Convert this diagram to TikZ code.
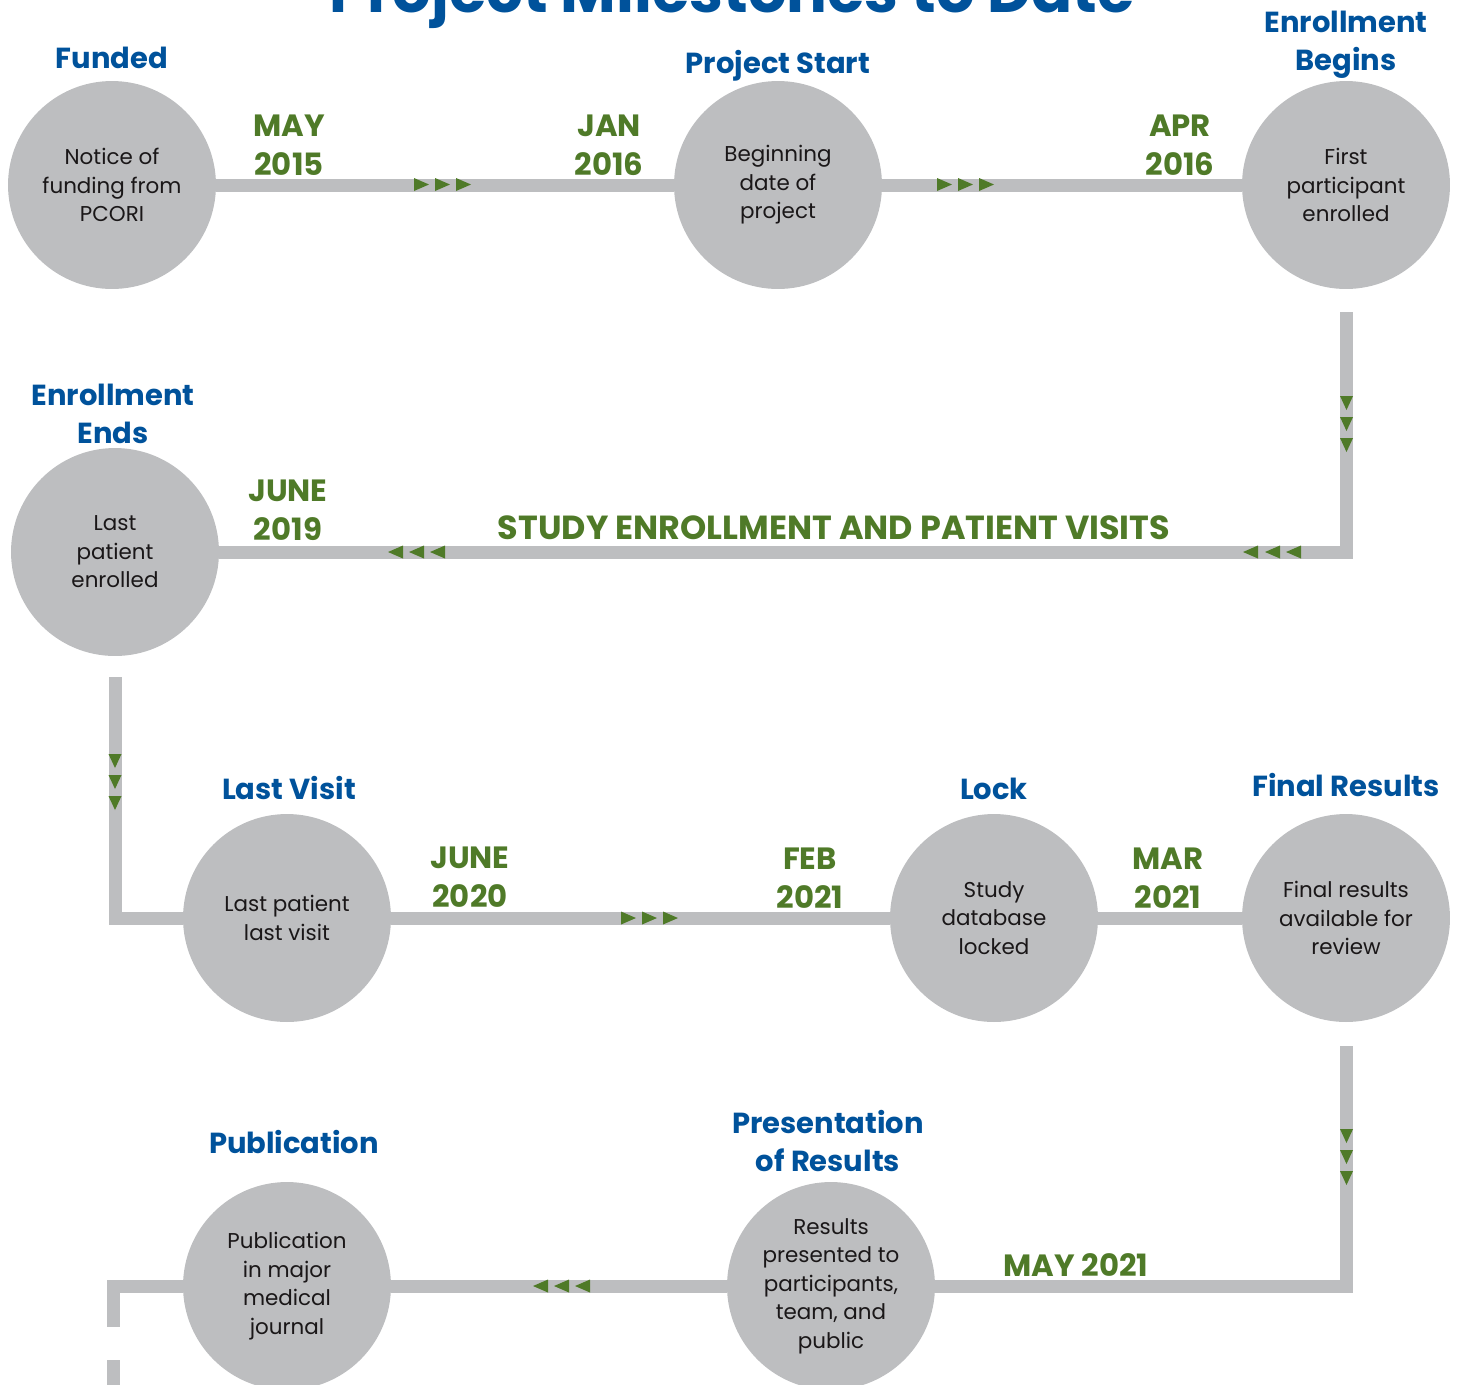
\documentclass[tikz,border=0pt]{standalone}
\usepackage{fontspec}
\setmainfont{Poppins}
\usepackage{tikz}
\usetikzlibrary{positioning}
\usetikzlibrary{calc}
\definecolor{mileblue}{HTML}{00529B}
\definecolor{milegreen}{HTML}{4F7A28}
\definecolor{milegray}{HTML}{BDBEC0}
\definecolor{miletext}{HTML}{1A1718}

\begin{document}
\begin{tikzpicture}[x=0.02cm, y=-0.02cm,
	track/.style={draw=milegray, line width=0.26cm},
	stop/.style={circle, fill=milegray, minimum size=4.16cm, inner sep=0pt,
		align=center, text=miletext, font=\fontsize{12.2}{16.2}\selectfont},
	heading/.style={anchor=base, align=center, text=mileblue,
		font=\fontsize{16.5}{21.5}\selectfont\bfseries},
	when/.style={anchor=base, align=center, text=milegreen,
		font=\fontsize{17.5}{22}\selectfont\bfseries},
	chev/.style={fill=milegreen}]
	
	% NOTE: one unit is one pixel of the 1460 x 1384 sheet, y runs downwards
	%		a node with two lines sits on the baseline of its LAST line
	\useasboundingbox (0,0) rectangle (1460,1384);
	
	\node[anchor=base, text=mileblue, font=\fontsize{34.5}{36}\selectfont\bfseries]
		(Title) at (732,12) {Project Milestones to Date};
	
	%%%%%%%%%%%%%%%%%%%%%%%%%%%%%%%%%%%%%%%%%%%%%%%%%%%%%%%%%%%%%%
	% the milestones
	\node[stop] (Fund)    at (112,185)  {Notice of\\funding from\\PCORI};
	\node[stop] (Start)   at (778,185)  {Beginning\\date of\\project};
	\node[stop] (Begin)   at (1346,185) {First\\participant\\enrolled};
	
	\node[stop] (Ends)    at (115,552)  {Last\\patient\\enrolled};
	
	\node[stop] (Visit)   at (287,918)  {Last patient\\last visit};
	\node[stop] (Lock)    at (994,918)  {Study\\database\\locked};
	\node[stop] (Final)   at (1346,918) {Final results\\available for\\review};
	
	\node[stop] (Present) at (831,1286) {Results\\presented to\\participants,\\team, and\\public};
	\node[stop] (Pub)     at (287,1286) {Publication\\in major\\medical\\journal};
	
	% titles above the circles
	\node[heading] (FundLabel)    at (112,68)   {Funded};
	\node[heading] (StartLabel)   at (778,73)   {Project Start};
	\node[heading] (BeginLabel)   at (1346,70)  {Enrollment\\Begins};
	\node[heading] (EndsLabel)    at (113,443)  {Enrollment\\Ends};
	\node[heading] (VisitLabel)   at (289,799)  {Last Visit};
	\node[heading] (LockLabel)    at (994,799)  {Lock};
	\node[heading] (FinalLabel)   at (1346,796) {Final Results};
	\node[heading] (PresentLabel) at (828,1171) {Presentation\\of Results};
	\node[heading] (PubLabel)     at (294,1153) {Publication};
	
	% dates
	\node[when] (MayA)  at (289,175)  {MAY\\2015};
	\node[when] (Jan)   at (609,175)  {JAN\\2016};
	\node[when] (Apr)   at (1180,175) {APR\\2016};
	\node[when] (JunA)  at (288,540)  {JUNE\\2019};
	\node[when, font=\fontsize{19}{22}\selectfont\bfseries]
		(Study) at (834,539)  {STUDY ENROLLMENT AND PATIENT VISITS};
	\node[when] (JunB)  at (470,907)  {JUNE\\2020};
	\node[when] (Feb)   at (810,908)  {FEB\\2021};
	\node[when] (Mar)   at (1168,908) {MAR\\2021};
	\node[when] (MayB)  at (1076,1276) {MAY 2021};
	
	%%%%%%%%%%%%%%%%%%%%%%%%%%%%%%%%%%%%%%%%%%%%%%%%%%%%%%%%%%%%%%
	% the track, corners are plain coordinates
	\coordinate (TurnA) at (1346,312);
	\coordinate (BendA) at (1346,552);
	\coordinate (TurnB) at (115,677);
	\coordinate (BendB) at (115,918);
	\coordinate (TurnC) at (1346,1046);
	\coordinate (BendC) at (1346,1286);
	\coordinate (BendD) at (113,1286);
	\coordinate (TailA) at (113,1327);
	\coordinate (TailB) at (113,1360);
	\coordinate (TailC) at (113,1400);
	
	\draw[track] (Fund) -- (Start);
	\draw[track] (Start) -- (Begin);
	\draw[track] (TurnA) -- (BendA) -- (Ends);
	\draw[track] (TurnB) -- (BendB) -- (Visit);
	\draw[track] (Visit) -- (Lock);
	\draw[track] (Lock) -- (Final);
	\draw[track] (TurnC) -- (BendC) -- (Present);
	\draw[track] (Present) -- (Pub);
	\draw[track] (Pub) -- (BendD) -- (TailA);
	\draw[track] (TailB) -- (TailC);
	
	% the little triangles on the track
	\foreach \x in {414,435,456,937,958,979}
		\fill[chev] (\x,178) -- ++(15,6.5) -- ++(-15,6.5) -- cycle;
	\foreach \x in {621,642,663}
		\fill[chev] (\x,911.5) -- ++(15,6.5) -- ++(-15,6.5) -- cycle;
	\foreach \x in {388,409,430,1243,1265,1286}
		\fill[chev] (\x,552) -- ++(15,-6.5) -- ++(0,13) -- cycle;
	\foreach \x in {533,554,575}
		\fill[chev] (\x,1286) -- ++(15,-6.5) -- ++(0,13) -- cycle;
	\foreach \y in {396,417,438}
		\fill[chev] (1340,\y) -- ++(13,0) -- ++(-6.5,14) -- cycle;
	\foreach \y in {754,775,796}
		\fill[chev] (108.5,\y) -- ++(13,0) -- ++(-6.5,14) -- cycle;
	\foreach \y in {1129,1150,1171}
		\fill[chev] (1340,\y) -- ++(13,0) -- ++(-6.5,14) -- cycle;
	
\end{tikzpicture}
\end{document}
